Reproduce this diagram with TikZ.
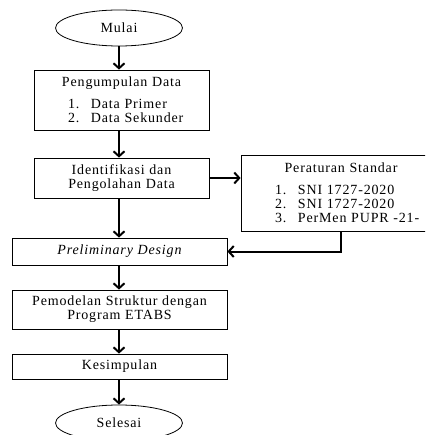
\documentclass[tikz,border=0pt]{standalone}
\usepackage{fontspec}
\setmainfont{Liberation Serif}[LetterSpace=6]
\usetikzlibrary{shapes.geometric,arrows.meta}

\newcommand{\butir}[2]{\makebox[\hsize][l]{\hspace*{26pt}\makebox[23pt][l]{#1}#2}}

\begin{document}
\begin{tikzpicture}[x=1pt,y=-1pt,
    kotak/.style={draw,line width=0.8pt,inner xsep=8pt,inner ysep=2pt,align=center,font=\fontsize{14}{14}\selectfont},
    oval/.style={draw,ellipse,line width=0.8pt,minimum width=127pt,minimum height=36pt,inner sep=0pt,font=\fontsize{14}{14}\selectfont},
    panah/.style={-{Straight Barb[length=5pt,width=11pt]},line width=2pt}]
      \useasboundingbox (0,0) rectangle (425,435);
      \clip (0,0) rectangle (425,435);
      \node[oval] (mulai) at (119,28) {Mulai};
      \node[kotak, text width=159pt, minimum height=60pt] (kumpul) at (121.5,100)
        {Pengumpulan Data\\[8pt] \butir{1.}{Data Primer}\\ \butir{2.}{Data Sekunder}};
      \node[kotak, text width=159pt, minimum height=40pt] (ident) at (121.5,178)
        {Identifikasi dan\\ Pengolahan Data};
      \node[kotak, text width=184pt, minimum height=76pt] (per) at (341,193)
        {Peraturan Standar\\[8pt] \butir{1.}{SNI 1727-2020}\\ \butir{2.}{SNI 1727-2020}\\ \butir{3.}{PerMen PUPR -21-}};
      \node[kotak, text width=199pt, minimum height=27pt] (prelim) at (119.5,251.5)
        {\itshape Preliminary Design};
      \node[kotak, text width=199pt, minimum height=39pt] (model) at (119.5,309.5)
        {Pemodelan Struktur dengan\\ Program ETABS};
      \node[kotak, text width=199pt, minimum height=25pt] (simpul) at (119.5,366.5)
        {Kesimpulan};
      \node[oval] (selesai) at (119,423) {Selesai};
      % alur
      \draw[panah] (mulai) -- (mulai |- kumpul.north);
      \draw[panah] (kumpul.south -| mulai) -- (mulai |- ident.north);
      \draw[panah] (ident.south -| mulai) -- (mulai |- prelim.north);
      \draw[panah] (ident.east) -- (ident.east -| per.west);
      \draw[panah] (per.south) |- (prelim.east);
      \draw[panah] (prelim.south -| mulai) -- (mulai |- model.north);
      \draw[panah] (model.south -| mulai) -- (mulai |- simpul.north);
      \draw[panah] (simpul.south -| mulai) -- (selesai);
\end{tikzpicture}
\end{document}
